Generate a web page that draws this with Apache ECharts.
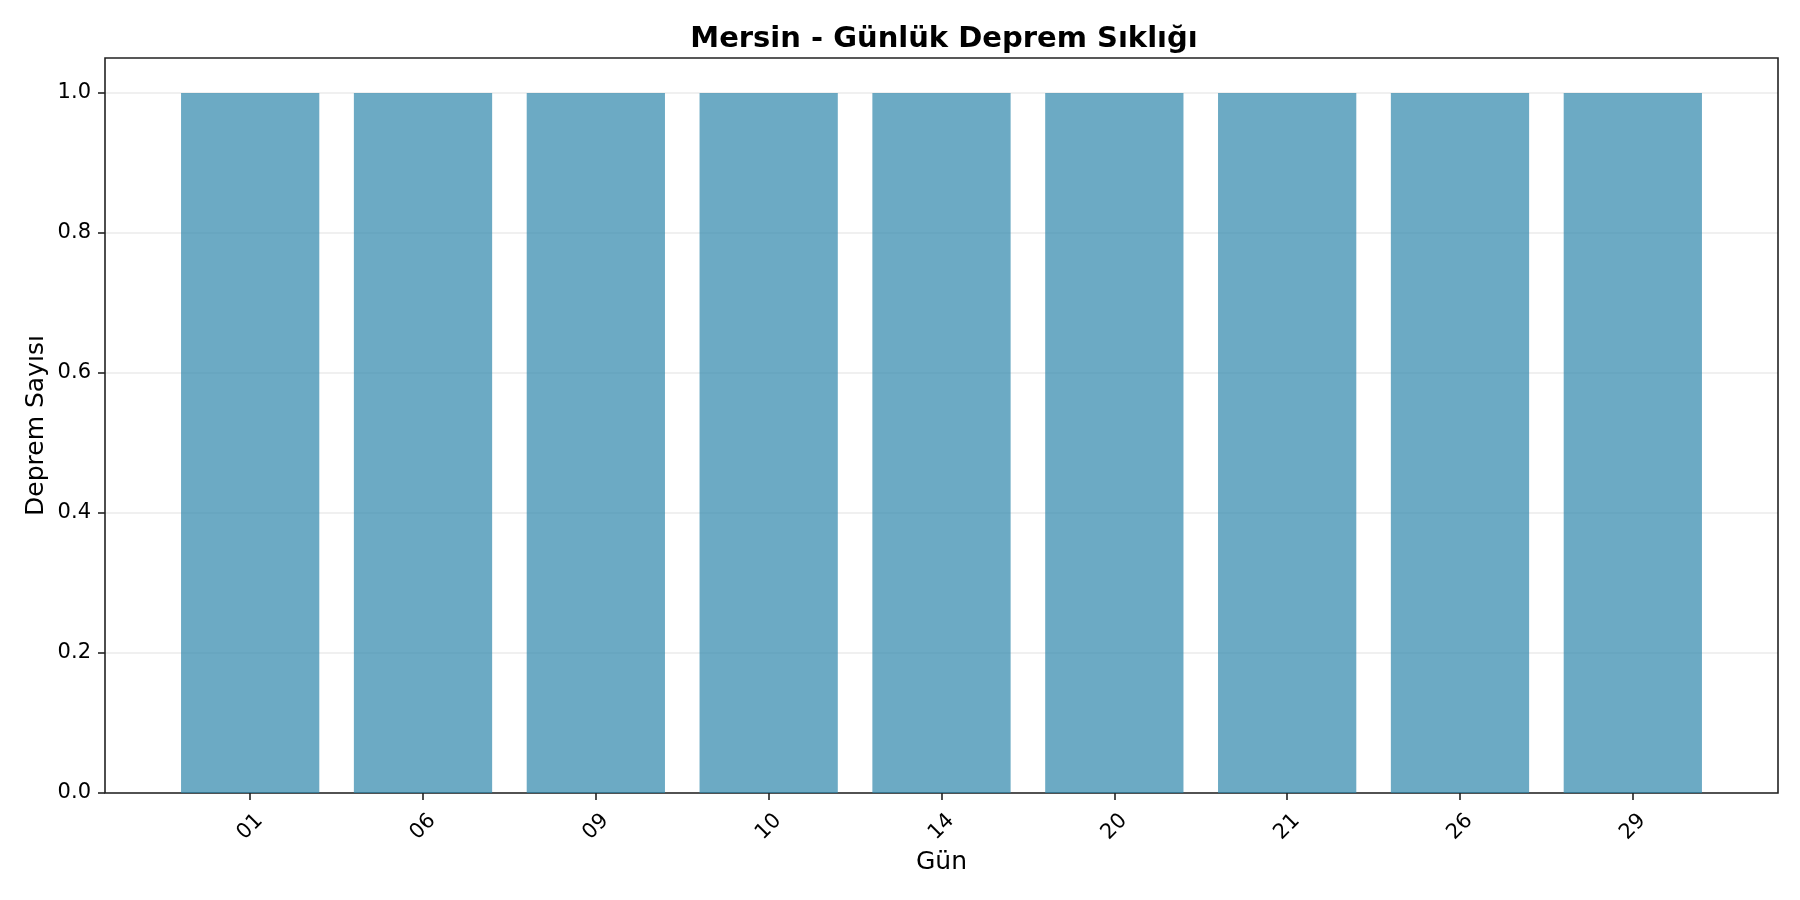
<!DOCTYPE html>
<html style="height: 100%">
<head>
  <meta charset="utf-8">
</head>
<body style="height: 100%; margin: 0; background: #fff">
  <div id="container" style="width: 1800px; height: 900px"></div>
  <script type="text/javascript" src="https://cdn.jsdelivr.net/npm/echarts@6/dist/echarts.min.js"></script>
  <script type="text/javascript">
    // data
    var days = ['01', '06', '09', '10', '14', '20', '21', '26', '29'];
    var counts = [1, 1, 1, 1, 1, 1, 1, 1, 1];
    var yTicks = [0, 0.2, 0.4, 0.6, 0.8, 1.0];

    var font = 'DejaVu Sans';
    var gridLeft = 105, gridRight = 22, gridTop = 58, gridBottom = 107;
    var xMin = -0.84, xMax = days.length - 1 + 0.84;
    var plotW = 1800 - gridLeft - gridRight;
    var barW = 0.8 * plotW / (xMax - xMin);
    var xIdx = days.map(function (d, i) { return i; });

    var dom = document.getElementById('container');
    var myChart = echarts.init(dom);
    var option = {
      backgroundColor: '#fff',
      animation: false,
      title: {
        text: 'Mersin - Günlük Deprem Sıklığı',
        left: 939,
        top: 20,
        textAlign: 'center',
        textStyle: { fontFamily: font, fontSize: 29, fontWeight: 'bold', color: '#000' }
      },
      grid: {
        left: gridLeft, right: gridRight, top: gridTop, bottom: gridBottom,
        show: true, borderColor: '#222', borderWidth: 1.6, backgroundColor: 'transparent'
      },
      xAxis: {
        type: 'value',
        min: xMin,
        max: xMax,
        name: 'Gün',
        nameLocation: 'middle',
        nameGap: 57,
        nameMoveOverlap: false,
        nameTextStyle: { fontFamily: font, fontSize: 25, color: '#000' },
        axisLine: { show: false, onZero: false },
        splitLine: { show: false },
        axisTick: {
          show: true, inside: false, length: 7,
          customValues: xIdx,
          lineStyle: { color: '#222', width: 1.6 }
        },
        axisLabel: {
          customValues: xIdx,
          rotate: 45,
          align: 'center',
          verticalAlign: 'middle',
          margin: 34,
          fontFamily: font,
          fontSize: 21,
          color: '#000',
          formatter: function (v) { return days[Math.round(v)]; }
        }
      },
      yAxis: {
        type: 'value',
        min: 0,
        max: 1.05,
        name: 'Deprem Sayısı',
        nameLocation: 'middle',
        nameGap: 56,
        nameRotate: 90,
        nameMoveOverlap: false,
        nameTextStyle: { fontFamily: font, fontSize: 25, color: '#000' },
        axisLine: { show: false, onZero: false },
        axisTick: {
          show: true, length: 7,
          customValues: yTicks,
          lineStyle: { color: '#222', width: 1.6 }
        },
        axisLabel: {
          customValues: yTicks,
          margin: 14,
          fontFamily: font,
          fontSize: 21,
          color: '#000',
          formatter: function (v) { return v.toFixed(1); }
        },
        splitLine: {
          show: true,
          lineStyle: { color: 'rgba(0,0,0,0.08)', width: 1.5 }
        }
      },
      series: [{
        type: 'bar',
        barWidth: barW,
        data: xIdx.map(function (i) { return [i, counts[i]]; }),
        itemStyle: { color: 'rgba(46,134,171,0.7)' }
      }]
    };
    myChart.setOption(option);
  </script>
</body>
</html>
